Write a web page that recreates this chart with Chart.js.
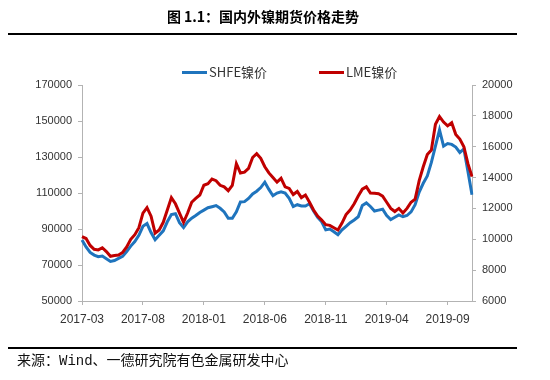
<!DOCTYPE html>
<html>
<head>
<meta charset="utf-8">
<script src="https://cdn.jsdelivr.net/npm/chart.js@4.4.1/dist/chart.umd.min.js"></script>
<style>
  html, body { margin: 0; padding: 0; background: #fff; }
</style>
</head>
<body>
<canvas id="chart" width="550" height="380"></canvas>
<script>
const chartTitle = '图 1.1：国内外镍期货价格走势';
const sourceText = '来源：Wind、一德研究院有色金属研发中心';

// sample dates, roughly every 10 days
const dates = [
  '2017-03-01','2017-03-11','2017-03-21','2017-04-01','2017-04-11','2017-04-21',
  '2017-05-01','2017-05-11','2017-05-21','2017-06-01','2017-06-11','2017-06-21',
  '2017-07-01','2017-07-11','2017-07-21','2017-08-01','2017-08-11','2017-08-21',
  '2017-09-01','2017-09-11','2017-09-21','2017-10-01','2017-10-11','2017-10-21',
  '2017-11-01','2017-11-11','2017-11-21','2017-12-01','2017-12-11','2017-12-21',
  '2018-01-01','2018-01-11','2018-01-21','2018-02-01','2018-02-11','2018-02-21',
  '2018-03-01','2018-03-11','2018-03-21','2018-04-01','2018-04-11','2018-04-21',
  '2018-05-01','2018-05-11','2018-05-21','2018-06-01','2018-06-11','2018-06-21',
  '2018-07-01','2018-07-11','2018-07-21','2018-08-01','2018-08-11','2018-08-21',
  '2018-09-01','2018-09-11','2018-09-21','2018-10-01','2018-10-11','2018-10-21',
  '2018-11-01','2018-11-11','2018-11-21','2018-12-01','2018-12-11','2018-12-21',
  '2019-01-01','2019-01-11','2019-01-21','2019-02-01','2019-02-11','2019-02-21',
  '2019-03-01','2019-03-11','2019-03-21','2019-04-01','2019-04-11','2019-04-21',
  '2019-05-01','2019-05-11','2019-05-21','2019-06-01','2019-06-11','2019-06-21',
  '2019-07-01','2019-07-11','2019-07-21','2019-08-01','2019-08-11','2019-08-21',
  '2019-09-01','2019-09-11','2019-09-21','2019-10-01','2019-10-11','2019-10-21',
  '2019-10-31'
];
const tickLabels = ['2017-03','2017-08','2018-01','2018-06','2018-11','2019-04','2019-09'];

// SHFE nickel, yuan/t (left axis)
const shfe = [
  83900, 80000, 77000, 75500, 74600, 75000, 73500, 72000, 72500, 73700, 74800, 77500,
  80500, 83000, 86500, 91500, 93000, 88000, 84000, 86500, 89000, 94000, 98000, 98500,
  93500, 90800, 94000, 96000, 97500, 99200, 100500, 101800, 102400, 103000, 101500, 99500,
  96000, 96000, 99500, 105000, 105200, 107000, 109500, 111000, 113000, 116000, 112000, 108500,
  110000, 110700, 110000, 107000, 102500, 103500, 102800, 102800, 104000, 100000, 96500, 94000,
  89500, 90000, 88500, 86800, 89500, 91500, 93500, 95000, 96800, 103000, 104500, 102500,
  100000, 100500, 101000, 97500, 95200, 96500, 97800, 96800, 97500, 99500, 103500, 110500,
  115400, 119500, 127000, 136000, 145000, 136000, 137500, 137000, 135500, 132500, 134500, 122000,
  109000
];

// LME nickel, usd/t (right axis)
const lme = [
  10170, 10050, 9600, 9350, 9310, 9450, 9200, 8900, 8950, 8980, 9150, 9500,
  10000, 10300, 10750, 11700, 12050, 11500, 10400, 10600, 11100, 11900, 12700, 12300,
  11700, 11100, 11700, 12400, 12650, 12870, 13500, 13600, 13900, 13800, 13500, 13400,
  13150, 13500, 14900, 14300, 14350, 14600, 15300, 15550, 15250, 14700, 14300, 14000,
  13700, 13950, 13400, 13300, 12900, 13100, 12700, 12870, 12400, 11900, 11500, 11250,
  10950, 10900, 10750, 10600, 11050, 11600, 11900, 12300, 12800, 13250, 13400, 13000,
  12980, 12950, 12800, 12400, 12000, 11800, 12000, 11700, 12000, 12400, 12600, 13800,
  14700, 15500, 15780, 17450, 17950, 17600, 17350, 17550, 16800, 16500, 16000, 14900,
  14060
];

const axisColor = '#b3b3b3';
const tickColor = '#333333';
const tickFont = { family: '"Liberation Sans", Arial, sans-serif', size: 11 };

// title, rules, source line and legend row drawn on the same canvas
const decor = {
  id: 'decor',
  afterDraw(chart) {
    const ctx = chart.ctx;
    ctx.save();
    ctx.fillStyle = '#000';
    ctx.textBaseline = 'middle';
    ctx.textAlign = 'center';
    ctx.font = 'bold 14px "Noto Sans CJK SC", sans-serif';
    ctx.fillText(chartTitle, 263, 17);
    ctx.fillRect(8, 33, 509, 2);
    ctx.fillRect(8, 347, 509, 2);

    ctx.textAlign = 'left';
    ctx.fillStyle = '#111';
    ctx.font = '14px "Liberation Mono", "Noto Sans CJK SC", monospace';
    ctx.fillText(sourceText, 17, 361);

    // legend
    const starts = [182, 319];
    ctx.font = '13px "Noto Sans CJK SC", sans-serif';
    chart.data.datasets.forEach((ds, i) => {
      const x = starts[i];
      ctx.strokeStyle = ds.borderColor;
      ctx.lineWidth = 3;
      ctx.beginPath();
      ctx.moveTo(x, 72.5);
      ctx.lineTo(x + 25, 72.5);
      ctx.stroke();
      ctx.fillStyle = '#333';
      ctx.fillText(ds.label, x + 27, 72);
    });
    ctx.restore();
  }
};

new Chart(document.getElementById('chart'), {
  type: 'line',
  data: {
    labels: dates,
    datasets: [
      { label: 'SHFE镍价', data: shfe, yAxisID: 'y', borderColor: '#1f74bd', backgroundColor: '#1f74bd', order: 1 },
      { label: 'LME镍价', data: lme, yAxisID: 'y1', borderColor: '#c00000', backgroundColor: '#c00000', order: 0 }
    ]
  },
  options: {
    responsive: false,
    animation: false,
    layout: { padding: { top: 85, bottom: 30, left: 0, right: 0 } },
    elements: {
      point: { radius: 0 },
      line: { borderWidth: 3, tension: 0 }
    },
    plugins: {
      legend: { display: false },
      tooltip: { enabled: false }
    },
    scales: {
      x: {
        type: 'category',
        offset: false,
        grid: { drawOnChartArea: false, tickLength: 4, color: axisColor, offset: false },
        border: { color: axisColor },
        ticks: {
          autoSkip: false,
          maxRotation: 0,
          padding: 7,
          color: tickColor,
          font: { family: '"Liberation Sans", Arial, sans-serif', size: 12 },
          callback: (v) => dates[v].slice(0, 7)
        },
        afterBuildTicks: (axis) => {
          axis.ticks = axis.ticks.filter(t =>
            dates[t.value].endsWith('-01') && tickLabels.includes(dates[t.value].slice(0, 7)));
        },
        afterFit: (s) => { s.height = 49; }
      },
      y: {
        position: 'left',
        min: 50000,
        max: 170000,
        grid: { drawOnChartArea: false, tickLength: 4, color: axisColor },
        border: { color: axisColor },
        ticks: { stepSize: 20000, padding: 6, color: tickColor, font: tickFont, callback: (v) => String(v) },
        afterFit: (s) => { s.width = 82; }
      },
      y1: {
        position: 'right',
        min: 6000,
        max: 20000,
        grid: { drawOnChartArea: false, tickLength: 4, color: axisColor },
        border: { color: axisColor },
        ticks: { stepSize: 2000, padding: 6, color: tickColor, font: tickFont, callback: (v) => String(v) },
        afterFit: (s) => { s.width = 78; }
      }
    }
  },
  plugins: [decor]
});
</script>
</body>
</html>
